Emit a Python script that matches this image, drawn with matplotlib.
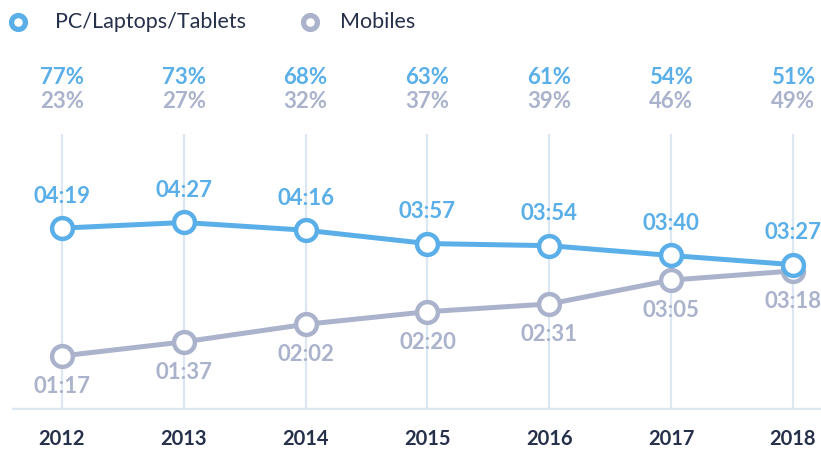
import matplotlib.pyplot as plt
from matplotlib.lines import Line2D
import matplotlib.transforms as mtransforms

years = [2012, 2013, 2014, 2015, 2016, 2017, 2018]
pc_time = ["04:19", "04:27", "04:16", "03:57", "03:54", "03:40", "03:27"]
mobile_time = ["01:17", "01:37", "02:02", "02:20", "02:31", "03:05", "03:18"]
pc_share = [77, 73, 68, 63, 61, 54, 51]
mobile_share = [23, 27, 32, 37, 39, 46, 49]


def to_minutes(t):
    h, m = t.split(":")
    return int(h) * 60 + int(m)


pc_min = [to_minutes(t) for t in pc_time]
mob_min = [to_minutes(t) for t in mobile_time]

blue = "#5aafe9"
grey = "#abb3cc"
dark = "#26304a"
grid = "#dde6f3"
font = "Lato"
wt = "bold"

fig = plt.figure(figsize=(8.21, 4.51), dpi=100)
ax = fig.add_axes([12 / 821, 1 - 410 / 451, 809 / 821, 276 / 451])
ax.set_xlim(2011.59, 2018.23)
ax.set_ylim(0, 393)

# vertical grid lines and baseline
ax.vlines(years, 0, 393, color=grid, lw=1.6, zorder=1)
ax.axhline(0, color=grid, lw=3.2, zorder=1)

for vals, col in [(mob_min, grey), (pc_min, blue)]:
    ax.plot(years, vals, color=col, lw=3.6, marker="o", ms=15,
            mfc="white", mec=col, mew=3.2, zorder=3, clip_on=False)

# value labels
for x, v, t in zip(years, pc_min, pc_time):
    ax.annotate(t, (x, v), xytext=(0, 23), textcoords="offset points",
                ha="center", va="center", color=blue, fontsize=16,
                fontweight=wt, family=font, annotation_clip=False)
for x, v, t in zip(years, mob_min, mobile_time):
    ax.annotate(t, (x, v), xytext=(0, -22), textcoords="offset points",
                ha="center", va="center", color=grey, fontsize=16,
                fontweight=wt, family=font, annotation_clip=False)

# share labels above the chart
trans = mtransforms.blended_transform_factory(ax.transData, fig.transFigure)
for x, p, m in zip(years, pc_share, mobile_share):
    ax.text(x, 1 - 78 / 451, f"{p}%", transform=trans, ha="center", va="center",
            color=blue, fontsize=16, fontweight=wt, family=font, clip_on=False)
    ax.text(x, 1 - 102 / 451, f"{m}%", transform=trans, ha="center", va="center",
            color=grey, fontsize=16, fontweight=wt, family=font, clip_on=False)

# year labels
ax.set_xticks(years)
ax.set_xticklabels([str(y) for y in years], fontsize=14.5, fontweight=wt,
                   family=font, color=dark)
ax.tick_params(axis="x", length=0, pad=14)
ax.set_yticks([])
for s in ax.spines.values():
    s.set_visible(False)

# legend
for xm, xt, col, lab in [(18, 55, blue, "PC/Laptops/Tablets"), (310, 340, grey, "Mobiles")]:
    fig.add_artist(Line2D([xm / 821], [1 - 22 / 451], transform=fig.transFigure,
                          marker="o", ms=10, mfc="white", mec=col, mew=3.8))
    fig.text(xt / 821, 1 - 22 / 451, lab, ha="left", va="center", fontsize=15.5,
             family=font, color=dark)

plt.savefig("out.png", dpi=100)
